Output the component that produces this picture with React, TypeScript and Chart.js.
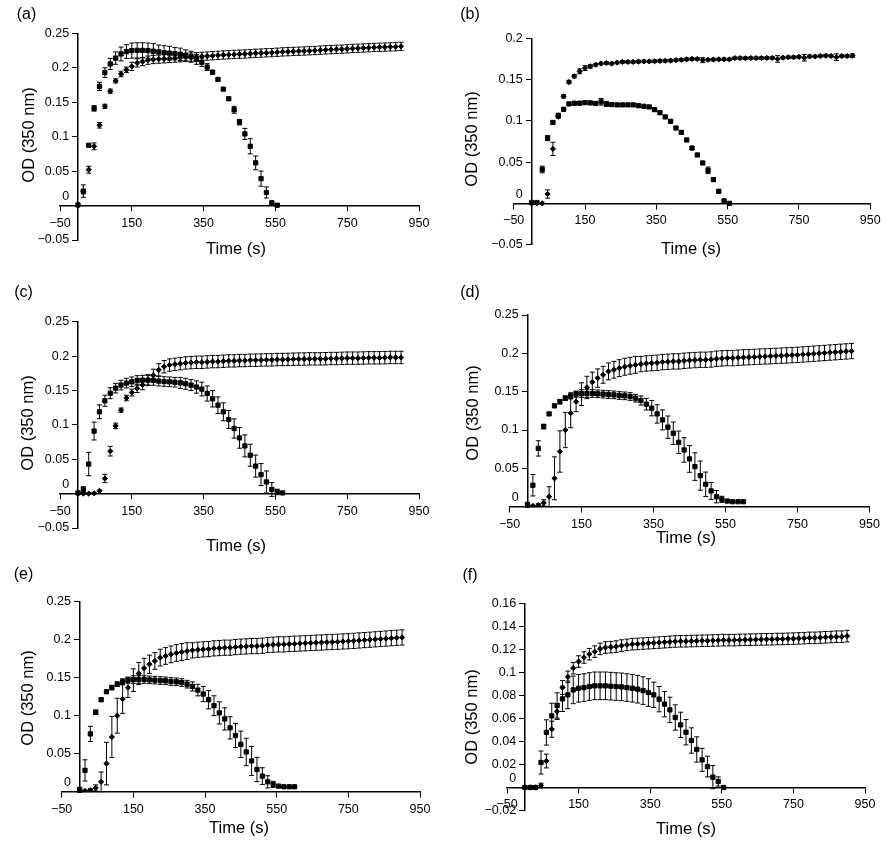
import React, { useEffect, useRef } from 'react';
import { Chart, registerables } from 'chart.js';

Chart.register(...registerables);

// ---------- shared axis data ----------
const TIME_S = [0, 15, 30, 45, 60, 75, 90, 105, 120, 135, 150, 165, 180, 195, 210, 225, 240, 255, 270, 285, 300, 315, 330, 345, 360, 375, 390, 405, 420, 435, 450, 465, 480, 495, 510, 525, 540, 555, 570, 585, 600, 615, 630, 645, 660, 675, 690, 705, 720, 735, 750, 765, 780, 795, 810, 825, 840, 855, 870, 885, 900];
const X_TICKS = ['\u221250', '150', '350', '550', '750', '950'];
const Y_TICKS_025 = ['\u22120.05', '0', '0.05', '0.1', '0.15', '0.2', '0.25'];
const Y_TICKS_020 = ['\u22120.05', '0', '0.05', '0.1', '0.15', '0.2'];
const Y_TICKS_025_POS = ['0', '0.05', '0.1', '0.15', '0.2', '0.25'];
const Y_TICKS_016 = ['\u22120.02', '0', '0.02', '0.04', '0.06', '0.08', '0.1', '0.12', '0.14', '0.16'];
const X_TITLE = 'Time (s)';
const Y_TITLE = 'OD (350 nm)';

// ---------- panel (a) ----------
const A_SQ = [0.001, 0.021, 0.0875, 0.141, 0.173, 0.193, 0.2055, 0.214, 0.22, 0.2235, 0.2249, 0.2253, 0.2253, 0.2249, 0.224, 0.223, 0.222, 0.2212, 0.2205, 0.2195, 0.218, 0.216, 0.212, 0.208, 0.201, 0.1934, 0.183, 0.169, 0.155, 0.139, 0.121, 0.104, 0.086, 0.062, 0.039, 0.019, 0.004, 0.0005];
const A_SQ_ERR = [0.001, 0.009, 0.002, 0.004, 0.006, 0.007, 0.008, 0.009, 0.01, 0.01, 0.011, 0.011, 0.011, 0.011, 0.011, 0.01, 0.01, 0.01, 0.009, 0.009, 0.008, 0.008, 0.007, 0.006, 0.005, 0.003, 0.002, 0.002, 0.002, 0.005, 0.004, 0.008, 0.011, 0.01, 0.011, 0.008, 0.002, 0.001];
const A_DIA = [0, 0.02, 0.052, 0.086, 0.1165, 0.144, 0.166, 0.181, 0.191, 0.197, 0.202, 0.207, 0.209, 0.211, 0.212, 0.2125, 0.213, 0.2135, 0.214, 0.2145, 0.215, 0.2155, 0.216, 0.2165, 0.217, 0.2175, 0.218, 0.2185, 0.219, 0.2193, 0.2197, 0.22, 0.2205, 0.221, 0.2213, 0.2217, 0.222, 0.2225, 0.223, 0.2233, 0.2237, 0.224, 0.2243, 0.2247, 0.225, 0.2255, 0.226, 0.2263, 0.2267, 0.227, 0.2275, 0.228, 0.2283, 0.2287, 0.229, 0.2295, 0.2298, 0.23, 0.2303, 0.2305, 0.231];
const A_DIA_ERR = [0, 0.003, 0.005, 0.005, 0.004, 0.003, 0.003, 0.003, 0.004, 0.004, 0.006, 0.006, 0.006, 0.006, 0.006, 0.006, 0.006, 0.006, 0.006, 0.006, 0.006, 0.006, 0.006, 0.006, 0.006, 0.006, 0.006, 0.006, 0.006, 0.006, 0.006, 0.006, 0.006, 0.006, 0.006, 0.006, 0.006, 0.006, 0.006, 0.006, 0.006, 0.006, 0.006, 0.006, 0.006, 0.006, 0.006, 0.006, 0.006, 0.006, 0.006, 0.006, 0.006, 0.006, 0.006, 0.006, 0.006, 0.006, 0.006, 0.006, 0.006];

// ---------- panel (b) ----------
const B_SQ = [0.001, 0.001, 0.041, 0.079, 0.098, 0.1067, 0.114, 0.1205, 0.1213, 0.1213, 0.122, 0.1217, 0.121, 0.123, 0.1205, 0.1197, 0.1193, 0.1193, 0.1193, 0.1193, 0.1184, 0.1176, 0.1168, 0.1136, 0.11, 0.1047, 0.0994, 0.0913, 0.086, 0.0768, 0.067, 0.0586, 0.0489, 0.04, 0.0287, 0.0146, 0.003, 0];
const B_SQ_ERR = [0.001, 0.001, 0.004, 0.003, 0.0015, 0.0015, 0.0015, 0.0015, 0.0015, 0.0015, 0.0015, 0.0015, 0.0015, 0.004, 0.003, 0.0015, 0.0015, 0.0015, 0.0015, 0.0015, 0.0015, 0.0015, 0.0015, 0.0015, 0.0025, 0.0015, 0.0015, 0.0015, 0.0015, 0.0015, 0.0015, 0.0015, 0.0015, 0.004, 0.0015, 0.0015, 0.0015, 0.001];
const B_DIA = [0, 0, 0, 0.0113, 0.066, 0.105, 0.1297, 0.147, 0.154, 0.16, 0.164, 0.166, 0.168, 0.1694, 0.17, 0.1694, 0.1706, 0.1714, 0.1714, 0.1714, 0.1718, 0.172, 0.172, 0.1722, 0.1726, 0.1728, 0.173, 0.1735, 0.174, 0.1745, 0.175, 0.175, 0.1735, 0.174, 0.1742, 0.1745, 0.1745, 0.1745, 0.176, 0.176, 0.1758, 0.176, 0.176, 0.176, 0.1762, 0.1762, 0.175, 0.1765, 0.177, 0.177, 0.1775, 0.1765, 0.178, 0.178, 0.1785, 0.179, 0.1785, 0.1772, 0.1785, 0.1785, 0.179];
const B_DIA_ERR = [0, 0, 0, 0.005, 0.008, 0.002, 0.002, 0.002, 0.002, 0.003, 0.003, 0.002, 0.0015, 0.0015, 0.0015, 0.0015, 0.0015, 0.0015, 0.0015, 0.0015, 0.0015, 0.0015, 0.0015, 0.0015, 0.0015, 0.0015, 0.0015, 0.0015, 0.0015, 0.0015, 0.0015, 0.0015, 0.003, 0.0015, 0.0015, 0.0015, 0.0015, 0.0015, 0.0015, 0.0015, 0.0015, 0.0015, 0.0015, 0.0015, 0.0015, 0.0015, 0.004, 0.0015, 0.0015, 0.0015, 0.0015, 0.004, 0.0015, 0.0015, 0.0015, 0.0015, 0.0015, 0.004, 0.0015, 0.0015, 0.002];

// ---------- panel (c) ----------
const C_SQ = [0.001, 0.006, 0.043, 0.091, 0.119, 0.135, 0.146, 0.1534, 0.1578, 0.1607, 0.1626, 0.1646, 0.165, 0.165, 0.1646, 0.1636, 0.163, 0.1626, 0.162, 0.161, 0.1597, 0.1578, 0.155, 0.152, 0.1456, 0.138, 0.1286, 0.119, 0.1078, 0.0947, 0.081, 0.0694, 0.0558, 0.04, 0.0277, 0.017, 0.006, 0.0024, 0.001];
const C_SQ_ERR = [0.001, 0.004, 0.017, 0.013, 0.01, 0.008, 0.008, 0.007, 0.007, 0.007, 0.007, 0.007, 0.007, 0.007, 0.007, 0.007, 0.007, 0.007, 0.007, 0.008, 0.008, 0.008, 0.009, 0.01, 0.011, 0.012, 0.012, 0.013, 0.013, 0.014, 0.015, 0.016, 0.016, 0.016, 0.016, 0.016, 0.01, 0.004, 0.001];
const C_DIA = [0, 0, 0, 0.0005, 0.004, 0.022, 0.0617, 0.0985, 0.1214, 0.139, 0.147, 0.153, 0.158, 0.165, 0.172, 0.18, 0.1845, 0.187, 0.188, 0.189, 0.19, 0.1905, 0.191, 0.191, 0.1915, 0.192, 0.192, 0.1925, 0.193, 0.193, 0.1935, 0.1935, 0.194, 0.194, 0.1942, 0.1945, 0.1945, 0.195, 0.195, 0.1952, 0.1955, 0.1956, 0.1957, 0.196, 0.196, 0.196, 0.1962, 0.1965, 0.1965, 0.1967, 0.197, 0.197, 0.197, 0.1972, 0.1975, 0.1975, 0.1975, 0.1977, 0.198, 0.198, 0.198];
const C_DIA_ERR = [0.001, 0.001, 0.001, 0.001, 0.001, 0.006, 0.007, 0.004, 0.003, 0.004, 0.005, 0.006, 0.007, 0.008, 0.009, 0.009, 0.009, 0.009, 0.009, 0.009, 0.009, 0.009, 0.009, 0.009, 0.009, 0.009, 0.009, 0.009, 0.009, 0.009, 0.009, 0.009, 0.009, 0.009, 0.009, 0.009, 0.009, 0.009, 0.009, 0.009, 0.009, 0.009, 0.009, 0.009, 0.009, 0.009, 0.009, 0.009, 0.009, 0.009, 0.009, 0.009, 0.009, 0.009, 0.009, 0.009, 0.009, 0.009, 0.009, 0.009, 0.009];

// ---------- panels (d) and (e) ----------
const D_SQ = [0.003, 0.028, 0.076, 0.1045, 0.121, 0.1315, 0.137, 0.1415, 0.1446, 0.1468, 0.1476, 0.1476, 0.1476, 0.1472, 0.1468, 0.1463, 0.1459, 0.145, 0.1446, 0.1437, 0.1415, 0.1385, 0.1337, 0.1285, 0.121, 0.1132, 0.1037, 0.0958, 0.084, 0.074, 0.0623, 0.0523, 0.0405, 0.0292, 0.0205, 0.013, 0.0096, 0.0074, 0.0065, 0.0065, 0.0065];
const D_SQ_ERR = [0.002, 0.014, 0.01, 0.003, 0.002, 0.002, 0.003, 0.003, 0.004, 0.004, 0.005, 0.005, 0.005, 0.005, 0.005, 0.005, 0.005, 0.005, 0.005, 0.005, 0.005, 0.006, 0.0076, 0.01, 0.012, 0.013, 0.0146, 0.0146, 0.0146, 0.016, 0.0174, 0.018, 0.019, 0.016, 0.011, 0.008, 0.004, 0.002, 0.001, 0.001, 0.001];
const D_DIA = [0, 0.001, 0.002, 0.005, 0.013, 0.037, 0.072, 0.1, 0.122, 0.137, 0.1468, 0.1555, 0.1625, 0.1677, 0.172, 0.1764, 0.1786, 0.1807, 0.1825, 0.1838, 0.185, 0.186, 0.1868, 0.1873, 0.1877, 0.1886, 0.189, 0.1895, 0.1895, 0.1903, 0.1908, 0.1912, 0.1916, 0.1916, 0.192, 0.193, 0.1934, 0.1938, 0.1938, 0.1943, 0.1947, 0.195, 0.1953, 0.1957, 0.196, 0.1963, 0.1967, 0.197, 0.1973, 0.1977, 0.198, 0.1985, 0.199, 0.1995, 0.2, 0.2005, 0.201, 0.2015, 0.202, 0.2025, 0.203];
const D_DIA_ERR = [0.001, 0.001, 0.002, 0.004, 0.013, 0.028, 0.027, 0.023, 0.019, 0.013, 0.0148, 0.0146, 0.013, 0.012, 0.011, 0.011, 0.011, 0.011, 0.011, 0.011, 0.011, 0.01, 0.01, 0.01, 0.01, 0.01, 0.01, 0.01, 0.01, 0.01, 0.01, 0.01, 0.01, 0.01, 0.01, 0.01, 0.01, 0.01, 0.01, 0.01, 0.01, 0.01, 0.01, 0.01, 0.01, 0.01, 0.01, 0.01, 0.01, 0.01, 0.01, 0.01, 0.01, 0.01, 0.01, 0.01, 0.01, 0.01, 0.01, 0.01, 0.01];
const E_SQ = D_SQ;
const E_SQ_ERR = D_SQ_ERR;
const E_DIA = D_DIA;
const E_DIA_ERR = D_DIA_ERR;

// ---------- panel (f) ----------
const F_SQ = [0, 0, 0, 0.0217, 0.0478, 0.0622, 0.0712, 0.077, 0.0805, 0.0848, 0.0862, 0.0868, 0.0877, 0.0883, 0.0883, 0.0883, 0.088, 0.0877, 0.0874, 0.0868, 0.0862, 0.0854, 0.0842, 0.0825, 0.0805, 0.0767, 0.0724, 0.0674, 0.0608, 0.0544, 0.048, 0.0408, 0.033, 0.024, 0.0182, 0.009, 0.0052, 0];
const F_SQ_ERR = [0.001, 0.001, 0.001, 0.01, 0.011, 0.011, 0.011, 0.011, 0.012, 0.012, 0.012, 0.012, 0.012, 0.012, 0.012, 0.012, 0.012, 0.012, 0.012, 0.012, 0.012, 0.012, 0.012, 0.012, 0.011, 0.011, 0.011, 0.011, 0.011, 0.011, 0.011, 0.011, 0.011, 0.01, 0.009, 0.01, 0.004, 0.001];
const F_DIA = [0, 0, 0, 0.0017, 0.023, 0.0506, 0.066, 0.0868, 0.0961, 0.1036, 0.1094, 0.1129, 0.1158, 0.118, 0.1204, 0.1216, 0.1219, 0.1224, 0.1233, 0.1239, 0.1245, 0.1247, 0.125, 0.1253, 0.1256, 0.1259, 0.1262, 0.1265, 0.1268, 0.127, 0.127, 0.1272, 0.1273, 0.1275, 0.1275, 0.1277, 0.1278, 0.128, 0.128, 0.128, 0.1282, 0.1283, 0.1284, 0.1285, 0.1286, 0.1287, 0.1288, 0.129, 0.129, 0.1292, 0.1293, 0.1295, 0.1297, 0.13, 0.13, 0.1302, 0.1305, 0.1307, 0.131, 0.131, 0.1315];
const F_DIA_ERR = [0.001, 0.001, 0.001, 0.002, 0.006, 0.007, 0.007, 0.006, 0.005, 0.005, 0.005, 0.005, 0.005, 0.005, 0.005, 0.005, 0.005, 0.005, 0.005, 0.005, 0.005, 0.005, 0.005, 0.005, 0.005, 0.005, 0.005, 0.005, 0.005, 0.005, 0.005, 0.005, 0.005, 0.005, 0.005, 0.005, 0.005, 0.005, 0.005, 0.005, 0.005, 0.005, 0.005, 0.005, 0.005, 0.005, 0.005, 0.005, 0.005, 0.005, 0.005, 0.005, 0.005, 0.005, 0.005, 0.005, 0.005, 0.005, 0.005, 0.005, 0.005];

const FONT = "'Liberation Sans', Arial, Helvetica, sans-serif";
// gap between the y tick labels and the y axis line (rendered as trailing spaces)
const Y_LABEL_GAP = '\u2002\u2009';

type PanelCfg = {
  key: string;
  label: string;
  box: { x: number; y: number; w: number; h: number };
  area: { l: number; r: number; t: number; b: number };
  yMin: number;
  yMax: number;
  yStep: number;
  yTicks: string[];
  labelPos: { x: number; y: number };
  xTitlePos: { x: number; y: number };
  yTitlePos: { x: number; y: number };
  sq: number[];
  sqErr: number[];
  dia: number[];
  diaErr: number[];
};

const PANELS: PanelCfg[] = [
  { key: 'a', label: '(a)', box: { x: 0, y: 0, w: 447, h: 280 }, area: { l: 60, r: 419, t: 33.3, b: 240 }, yMin: -0.05, yMax: 0.25, yStep: 0.05, yTicks: Y_TICKS_025,
    labelPos: { x: 26.5, y: 13.5 }, xTitlePos: { x: 236, y: 248 }, yTitlePos: { x: 27.5, y: 135 }, sq: A_SQ, sqErr: A_SQ_ERR, dia: A_DIA, diaErr: A_DIA_ERR },
  { key: 'b', label: '(b)', box: { x: 447, y: 0, w: 447, h: 280 }, area: { l: 513.7, r: 870.3, t: 38.3, b: 244.6 }, yMin: -0.05, yMax: 0.2, yStep: 0.05, yTicks: Y_TICKS_020,
    labelPos: { x: 470, y: 13.5 }, xTitlePos: { x: 691, y: 248 }, yTitlePos: { x: 471, y: 139 }, sq: B_SQ, sqErr: B_SQ_ERR, dia: B_DIA, diaErr: B_DIA_ERR },
  { key: 'c', label: '(c)', box: { x: 0, y: 280, w: 447, h: 280 }, area: { l: 60, r: 419, t: 321.7, b: 528 }, yMin: -0.05, yMax: 0.25, yStep: 0.05, yTicks: Y_TICKS_025,
    labelPos: { x: 23.5, y: 291.5 }, xTitlePos: { x: 236, y: 545 }, yTitlePos: { x: 27, y: 423 }, sq: C_SQ, sqErr: C_SQ_ERR, dia: C_DIA, diaErr: C_DIA_ERR },
  { key: 'd', label: '(d)', box: { x: 447, y: 280, w: 447, h: 280 }, area: { l: 509.5, r: 869.5, t: 315, b: 506.7 }, yMin: 0, yMax: 0.25, yStep: 0.05, yTicks: Y_TICKS_025_POS,
    labelPos: { x: 470, y: 291.5 }, xTitlePos: { x: 686, y: 536.5 }, yTitlePos: { x: 472, y: 413 }, sq: D_SQ, sqErr: D_SQ_ERR, dia: D_DIA, diaErr: D_DIA_ERR },
  { key: 'e', label: '(e)', box: { x: 0, y: 560, w: 447, h: 294 }, area: { l: 61.7, r: 420, t: 601.7, b: 791.7 }, yMin: 0, yMax: 0.25, yStep: 0.05, yTicks: Y_TICKS_025_POS,
    labelPos: { x: 23.5, y: 573.5 }, xTitlePos: { x: 239, y: 826.5 }, yTitlePos: { x: 27, y: 698 }, sq: E_SQ, sqErr: E_SQ_ERR, dia: E_DIA, diaErr: E_DIA_ERR },
  { key: 'f', label: '(f)', box: { x: 447, y: 560, w: 447, h: 294 }, area: { l: 507, r: 865, t: 603.3, b: 810.5 }, yMin: -0.02, yMax: 0.16, yStep: 0.02, yTicks: Y_TICKS_016,
    labelPos: { x: 470, y: 575 }, xTitlePos: { x: 686, y: 828 }, yTitlePos: { x: 471, y: 716.5 }, sq: F_SQ, sqErr: F_SQ_ERR, dia: F_DIA, diaErr: F_DIA_ERR },
];

const toNum = (s: string) => Number(s.replace('\u2212', '-'));

const errorBarPlugin = {
  id: 'errorBars',
  afterDatasetsDraw(chart: any) {
    const { ctx } = chart;
    const xs = chart.scales.x;
    const ys = chart.scales.y;
    const cap = 2.5;
    ctx.save();
    ctx.strokeStyle = '#000';
    ctx.lineWidth = 1;
    chart.data.datasets.forEach((ds: any) => {
      const errs: number[] = ds.errors || [];
      ds.data.forEach((p: any, i: number) => {
        const e = errs[i];
        if (!e) return;
        const px = xs.getPixelForValue(p.x);
        const top = ys.getPixelForValue(p.y + e);
        const bot = ys.getPixelForValue(p.y - e);
        ctx.beginPath();
        ctx.moveTo(px, top);
        ctx.lineTo(px, bot);
        ctx.moveTo(px - cap, top);
        ctx.lineTo(px + cap, top);
        ctx.moveTo(px - cap, bot);
        ctx.lineTo(px + cap, bot);
        ctx.stroke();
      });
    });
    ctx.restore();
  },
};

function PanelChart({ cfg }: { cfg: PanelCfg }) {
  const ref = useRef<HTMLCanvasElement | null>(null);
  useEffect(() => {
    if (!ref.current) return;
    const { box, area } = cfg;
    const yLabelFor = (v: number) => {
      const s = cfg.yTicks.find((t) => Math.abs(toNum(t) - v) < 1e-9);
      if (s === undefined) return '';
      return s === '0' ? ['0' + Y_LABEL_GAP, ''] : s + Y_LABEL_GAP;
    };
    const xLabelFor = (v: number) => {
      const s = X_TICKS.find((t) => Math.abs(toNum(t) - v) < 1e-9);
      return s === undefined ? '' : s;
    };
    const axisCommon = {
      grid: { display: true, drawOnChartArea: false, drawTicks: true, tickLength: 5, color: '#000', lineWidth: 1 },
      border: { display: true, color: '#000', width: 1.5 },
    };
    const chart = new Chart(ref.current, {
      type: 'scatter',
      data: {
        datasets: [
          {
            label: 'square',
            data: cfg.sq.map((v, i) => ({ x: TIME_S[i], y: v })),
            errors: cfg.sqErr,
            pointStyle: 'rect',
            pointRadius: 3,
            backgroundColor: '#000',
            borderColor: '#000',
            borderWidth: 1,
            showLine: false,
          } as any,
          {
            label: 'diamond',
            data: cfg.dia.map((v, i) => ({ x: TIME_S[i], y: v })),
            errors: cfg.diaErr,
            pointStyle: 'rectRot',
            pointRadius: 2.6,
            backgroundColor: '#000',
            borderColor: '#000',
            borderWidth: 1,
            showLine: false,
          } as any,
        ],
      },
      options: {
        responsive: false,
        animation: false,
        events: [],
        layout: {
          padding: {
            left: area.l - box.x,
            right: box.x + box.w - area.r,
            top: area.t - box.y,
            bottom: box.y + box.h - area.b,
          },
        },
        plugins: { legend: { display: false }, tooltip: { enabled: false } },
        scales: {
          x: {
            type: 'linear',
            min: -50,
            max: 950,
            position: { y: 0 } as any,
            afterFit: (s: any) => { s.height = 0; },
            ticks: {
              stepSize: 200,
              autoSkip: false,
              maxRotation: 0,
              padding: 5,
              color: '#000',
              font: { family: FONT, size: 12.5 },
              callback: (v: any) => xLabelFor(Number(v)),
            },
            ...axisCommon,
          },
          y: {
            type: 'linear',
            min: cfg.yMin,
            max: cfg.yMax,
            position: { x: 0 } as any,
            afterFit: (s: any) => { s.width = 0; },
            ticks: {
              stepSize: cfg.yStep,
              autoSkip: false,
              padding: 5,
              color: '#000',
              font: { family: FONT, size: 12.5, lineHeight: 1.4 },
              callback: (v: any) => yLabelFor(Number(v)) as any,
            },
            ...axisCommon,
          },
        },
      } as any,
      plugins: [errorBarPlugin],
    });
    return () => chart.destroy();
  }, [cfg]);

  const textBase: React.CSSProperties = {
    position: 'absolute',
    fontFamily: FONT,
    color: '#000',
    whiteSpace: 'nowrap',
    lineHeight: 1,
  };
  return (
    <>
      <canvas
        ref={ref}
        width={cfg.box.w}
        height={cfg.box.h}
        style={{ position: 'absolute', left: cfg.box.x, top: cfg.box.y, width: cfg.box.w, height: cfg.box.h, display: 'block' }}
      />
      <div style={{ ...textBase, left: cfg.labelPos.x, top: cfg.labelPos.y, fontSize: 16, transform: 'translate(-50%, -50%)' }}>{cfg.label}</div>
      <div style={{ ...textBase, left: cfg.xTitlePos.x, top: cfg.xTitlePos.y, fontSize: 16.5, transform: 'translate(-50%, -50%)' }}>{X_TITLE}</div>
      <div style={{ ...textBase, left: cfg.yTitlePos.x, top: cfg.yTitlePos.y, fontSize: 16.5, transform: 'translate(-50%, -50%) rotate(-90deg)' }}>{Y_TITLE}</div>
    </>
  );
}

export default function App() {
  return (
    <div style={{ position: 'absolute', left: 0, top: 0, width: 894, height: 854, background: '#fff', overflow: 'hidden' }}>
      {PANELS.map((p) => (
        <PanelChart key={p.key} cfg={p} />
      ))}
    </div>
  );
}
